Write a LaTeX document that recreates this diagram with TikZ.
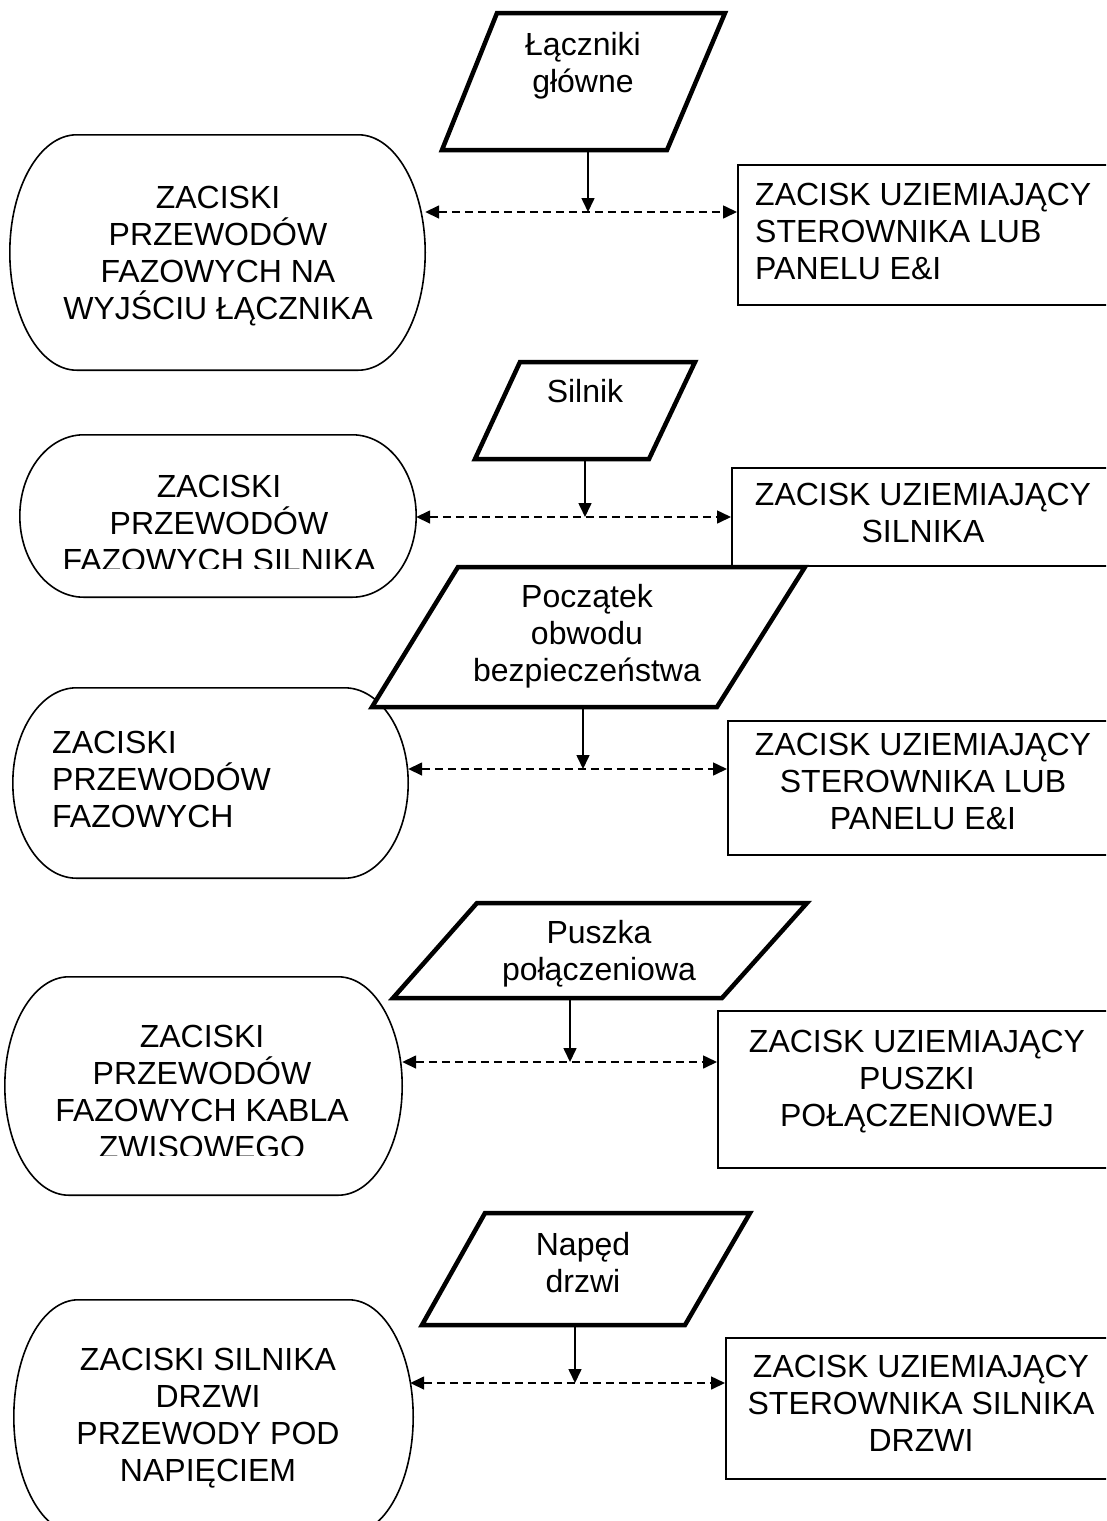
\documentclass[tikz,border=0pt]{standalone}
\usepackage{fontspec}
\setmainfont{Liberation Sans}
\usetikzlibrary{arrows.meta,calc}

\tikzset{
  every node/.style={font=\fontsize{32}{37}\selectfont, inner sep=0pt},
  iobox/.style={draw, line width=4.5pt, line join=miter, fill=white},
  termline/.style={line width=1.6pt},
  gndbox/.style={draw, line width=1.6pt, anchor=north west, minimum width=400pt},
  lbl/.style={anchor=base, align=center},
  lbll/.style={anchor=base west, align=left},
  feed/.style={line width=1.6pt, -{Triangle[length=14pt,width=13pt]}},
  link/.style={line width=1.6pt, dash pattern=on 8pt off 5pt,
    {Triangle[length=14pt,width=13pt]}-{Triangle[length=14pt,width=13pt]}},
}

% terminator outline (flat top/bottom, elliptical ends) around a named node
\newcommand\termoutline[1]{%
  \draw[termline] let \p1=(#1.south west), \p2=(#1.north east),
    \n1={0.161*(\x2-\x1)}, \n2={0.5523*0.161*(\x2-\x1)},
    \n3={(\y1+\y2)/2}, \n4={0.5523*(\y2-\y1)/2} in
    (\x1+\n1*1pt,\y2) -- (\x2-\n1*1pt,\y2)
    .. controls (\x2-\n1*1pt+\n2*1pt,\y2) and (\x2,\n3*1pt+\n4*1pt) .. (\x2,\n3*1pt)
    .. controls (\x2,\n3*1pt-\n4*1pt) and (\x2-\n1*1pt+\n2*1pt,\y1) .. (\x2-\n1*1pt,\y1)
    -- (\x1+\n1*1pt,\y1)
    .. controls (\x1+\n1*1pt-\n2*1pt,\y1) and (\x1,\n3*1pt-\n4*1pt) .. (\x1,\n3*1pt)
    .. controls (\x1,\n3*1pt+\n4*1pt) and (\x1+\n1*1pt-\n2*1pt,\y2) .. cycle;}

\begin{document}
\begin{tikzpicture}[x=1pt,y=-1pt]
\useasboundingbox (0,0) rectangle (1106,1521);
\clip (0,0) rectangle (1106,1521);

% ---- terminals (left column) ----
\node[minimum width=415pt, minimum height=235pt] (s1) at (217.5,252.5) {};
\node[minimum width=396pt, minimum height=162pt] (s2) at (218,516) {};
\node[minimum width=395pt, minimum height=190pt] (s3) at (210.5,783) {};
\node[minimum width=397pt, minimum height=218pt] (s4) at (203.5,1086) {};
\node[minimum width=399pt, minimum height=234pt] (s5) at (213.5,1417) {};
\termoutline{s1}
\termoutline{s2}
\termoutline{s3}
\termoutline{s4}
\termoutline{s5}

% labels are placed by the baseline of their last line
\node[lbl] (t1) at (218,319) {ZACISKI\\PRZEWODÓW\\FAZOWYCH NA\\WYJŚCIU ŁĄCZNIKA};
\begin{scope}
  \clip (0,0) rectangle (1106,568);
  \node[lbl] (t2) at (219,571) {ZACISKI\\PRZEWODÓW\\FAZOWYCH SILNIKA};
\end{scope}
\node[lbll] (t3) at (52,827) {ZACISKI\\PRZEWODÓW\\FAZOWYCH};
\begin{scope}
  \clip (0,0) rectangle (1106,1155);
  \node[lbl] (t4) at (202,1158) {ZACISKI\\PRZEWODÓW\\FAZOWYCH KABLA\\ZWISOWEGO};
\end{scope}
\node[lbl] (t5) at (208,1481) {ZACISKI SILNIKA\\DRZWI\\PRZEWODY POD\\NAPIĘCIEM};

% ---- earthing terminals (right column) ----
\node[gndbox, minimum height=140pt] (r1) at (737,164) {};
\node[gndbox, minimum height=98pt]  (r2) at (731,467) {};
\node[gndbox, minimum height=134pt] (r3) at (727,720) {};
\node[gndbox, minimum height=157pt] (r4) at (717,1010) {};
\node[gndbox, minimum height=141pt] (r5) at (725,1337) {};

\node[lbll] (u1) at (755,279) {ZACISK UZIEMIAJĄCY\\STEROWNIKA LUB\\PANELU E\&I};
\node[lbl] (u2) at (923,542) {ZACISK UZIEMIAJĄCY\\SILNIKA};
\node[lbl] (u3) at (923,829) {ZACISK UZIEMIAJĄCY\\STEROWNIKA LUB\\PANELU E\&I};
\node[lbl] (u4) at (917,1126) {ZACISK UZIEMIAJĄCY\\PUSZKI\\POŁĄCZENIOWEJ};
\node[lbl] (u5) at (921,1451) {ZACISK UZIEMIAJĄCY\\STEROWNIKA SILNIKA\\DRZWI};

% ---- devices (parallelograms) ----
\draw[iobox] (497,13) -- (725,13) -- (667,150) -- (442,150) coordinate (p1) -- cycle;
\draw[iobox] (520,362) -- (695,362) -- (649,459) -- (475,459) coordinate (p2) -- cycle;
\draw[iobox] (458,567) -- (805,567) -- (717,707) -- (372,707) coordinate (p3) -- cycle;
\draw[iobox] (477,903) -- (807,903) -- (722,998) -- (393,998) coordinate (p4) -- cycle;
\draw[iobox] (485,1213) -- (750,1213) -- (685,1325) -- (422,1325) coordinate (p5) -- cycle;

\node[lbl] (q1) at (583,92) {Łączniki\\główne};
\node[lbl] (q2) at (585,402) {Silnik};
\node[lbl] (q3) at (587,681) {Początek\\obwodu\\bezpieczeństwa};
\node[lbl] (q4) at (599,980) {Puszka\\połączeniowa};
\node[lbl] (q5) at (583,1292) {Napęd\\drzwi};

% ---- connectors ----
\coordinate (j1) at (588,212);
\coordinate (j2) at (585,517);
\coordinate (j3) at (583,769);
\coordinate (j4) at (570,1062);
\coordinate (j5) at (575,1383);

\draw[feed] (j1 |- p1) -- (j1);
\draw[feed] (j2 |- p2) -- (j2);
\draw[feed] (j3 |- p3) -- (j3);
\draw[feed] (j4 |- p4) -- (j4);
\draw[feed] (j5 |- p5) -- (j5);

\draw[link] (s1.east |- j1) -- (r1.west |- j1);
\draw[link] (s2.east |- j2) -- (r2.west |- j2);
\draw[link] (s3.east |- j3) -- (r3.west |- j3);
\draw[link] (s4.east |- j4) -- (r4.west |- j4);
\draw[link] ([xshift=-3pt]s5.east |- j5) -- (r5.west |- j5);
\end{tikzpicture}
\end{document}
